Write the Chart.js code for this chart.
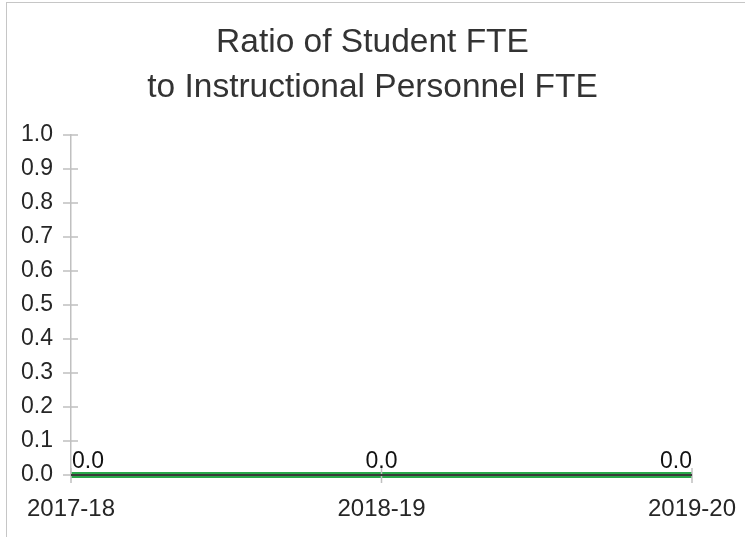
<!DOCTYPE html>
<html>
<head>
<meta charset="utf-8">
<script src="https://cdn.jsdelivr.net/npm/chart.js@4.4.1/dist/chart.umd.min.js"></script>
<style>
  html, body { margin: 0; padding: 0; background: #fff; overflow: hidden; }
  #wrap { position: relative; width: 745px; height: 537px; }
  #frame {
    position: absolute; left: 6px; top: 2px; width: 800px; height: 600px;
    border: 1.5px solid #c6c6c6; box-sizing: border-box; pointer-events: none;
  }
  canvas { position: absolute; left: 0; top: 0; }
</style>
</head>
<body>
<div id="wrap">
  <div id="frame"></div>
  <canvas id="chart" width="745" height="537"></canvas>
</div>
<script>
// Datos del gráfico
const titleLines = ['Ratio of Student FTE', 'to Instructional Personnel FTE'];
const years = ['2017-18', '2018-19', '2019-20'];
const ratioValues = [0.0, 0.0, 0.0];
const yTicks = [0.0, 0.1, 0.2, 0.3, 0.4, 0.5, 0.6, 0.7, 0.8, 0.9, 1.0];

const FAMILY = "'Liberation Sans', Arial, sans-serif";
const Y_FONT = { family: FAMILY, size: 23 };
const X_FONT = { family: FAMILY, size: 24 };
const TEXT_COLOR = '#262626';
const AXIS_COLOR = '#c0c0c0';
const LINE_GREEN = '#2aa84a';

// Marcas de eje que cruzan la línea (estilo Excel) y línea base oscura
const crossTicks = {
  id: 'crossTicks',
  afterDatasetsDraw(chart) {
    const { ctx, scales: { x, y }, chartArea } = chart;
    ctx.save();
    ctx.strokeStyle = AXIS_COLOR;
    ctx.lineWidth = 1.5;
    ctx.beginPath();
    yTicks.forEach(v => {
      const py = y.getPixelForValue(v);
      ctx.moveTo(chartArea.left - 8, py);
      ctx.lineTo(chartArea.left + 7, py);
    });
    years.forEach((_, i) => {
      const px = x.getPixelForValue(i);
      ctx.moveTo(px, chartArea.bottom - 7);
      ctx.lineTo(px, chartArea.bottom + 8);
    });
    ctx.stroke();

    const y0 = y.getPixelForValue(0);
    ctx.strokeStyle = '#3a3a3a';
    ctx.lineWidth = 2;
    ctx.beginPath();
    ctx.moveTo(x.getPixelForValue(0), y0);
    ctx.lineTo(x.getPixelForValue(years.length - 1), y0);
    ctx.stroke();
    ctx.restore();
  }
};

// Etiquetas de datos sobre cada punto, sin salirse del área
const pointLabels = {
  id: 'pointLabels',
  afterDraw(chart) {
    const { ctx, chartArea } = chart;
    const meta = chart.getDatasetMeta(0);
    ctx.save();
    ctx.font = Y_FONT.size + 'px ' + FAMILY;
    ctx.fillStyle = '#111';
    ctx.textBaseline = 'alphabetic';
    meta.data.forEach((pt, i) => {
      const txt = ratioValues[i].toFixed(1);
      const w = ctx.measureText(txt).width;
      let left = pt.x - w / 2;
      if (left < chartArea.left + 1) left = chartArea.left + 1;
      if (left + w > chartArea.right) left = chartArea.right - w;
      ctx.fillText(txt, left, pt.y - 7);
    });
    ctx.restore();
  }
};

new Chart(document.getElementById('chart').getContext('2d'), {
  type: 'line',
  data: {
    labels: years,
    datasets: [
      {
        label: 'Ratio',
        data: ratioValues,
        borderColor: LINE_GREEN,
        backgroundColor: LINE_GREEN,
        borderWidth: 6,
        pointRadius: 0,
        tension: 0,
        clip: 6
      }
    ]
  },
  options: {
    responsive: false,
    animation: false,
    layout: { padding: 0 },
    plugins: {
      legend: { display: false },
      tooltip: { enabled: false },
      title: {
        display: true,
        text: titleLines,
        color: '#333',
        font: { family: FAMILY, size: 33.5, weight: 'normal', lineHeight: '45px' },
        padding: { top: 20.5, bottom: 24.5 }
      }
    },
    scales: {
      x: {
        grid: { display: false, drawTicks: false },
        border: { display: false },
        ticks: { color: TEXT_COLOR, font: X_FONT, padding: 20, maxRotation: 0 },
        afterFit(scale) {
          scale.height = 62;
          scale.paddingRight = 53;
        }
      },
      y: {
        min: 0,
        max: 1,
        grid: { display: false, drawTicks: false },
        border: { display: true, color: AXIS_COLOR, width: 1.5 },
        ticks: {
          stepSize: 0.1,
          color: TEXT_COLOR,
          font: Y_FONT,
          padding: 18,
          callback: v => Number(v).toFixed(1)
        },
        afterFit(scale) { scale.width = 71; }
      }
    }
  },
  plugins: [crossTicks, pointLabels]
});
</script>
</body>
</html>
